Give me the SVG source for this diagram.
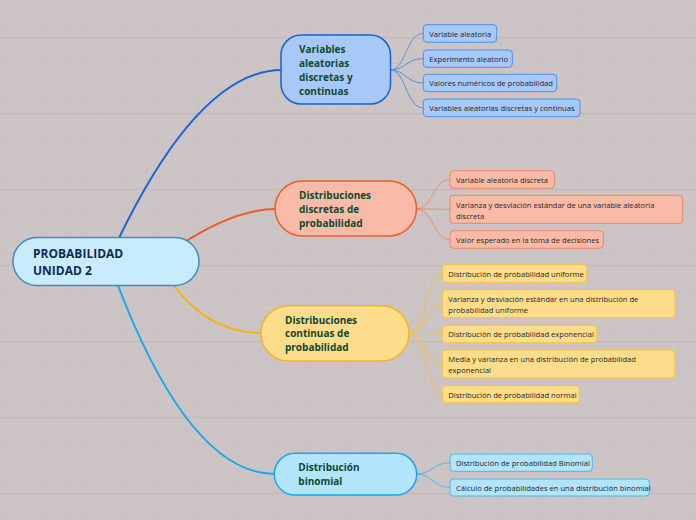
<svg xmlns="http://www.w3.org/2000/svg" width="696" height="520" viewBox="0 0 696 520">
<defs>
<pattern id="minor" patternUnits="userSpaceOnUse" x="6.5" y="-0.33" width="12.667" height="12.667">
<path d="M0,0 H12.667 M0,0 V12.667" fill="none" stroke="#c6bebe" stroke-width="1"/>
</pattern>
</defs>
<style>
.root{fill:#c8ecfc;stroke:#3f8bc8;stroke-width:1.5}
.b1{fill:#a8c8f8;stroke:#1462d2;stroke-width:1.5}
.b2{fill:#f9bba7;stroke:#f05a26;stroke-width:1.5}
.b3{fill:#fddc8b;stroke:#f4b521;stroke-width:1.5}
.b4{fill:#b2e4fb;stroke:#1ca6ea;stroke-width:1.5}
.l1{fill:#a8c8f8;stroke:#4f8fe6;stroke-width:1}
.l2{fill:#f9bba7;stroke:#ec8566;stroke-width:1}
.l3{fill:#fddc8b;stroke:#f6c23e;stroke-width:1}
.l4{fill:#b2e4fb;stroke:#4ab6ee;stroke-width:1}
.rt{font-family:"Open Sans","Noto Sans",sans-serif;font-weight:bold;font-size:12px;fill:#0f2a4f}
.bt{font-family:"Open Sans","Noto Sans",sans-serif;font-weight:bold;font-size:10px;fill:#0c4a31}
.lt{font-family:"Open Sans","Noto Sans",sans-serif;font-size:7.6px;fill:#1f1f1f}
.c{fill:none}
</style>
<rect width="696" height="520" fill="#cdc5c5"/>
<rect width="696" height="520" fill="url(#minor)"/>
<path d="M0,37.3H696M0,113.3H696M0,189.3H696M0,265.3H696M0,341.3H696M0,417.3H696M0,493.3H696" stroke="#c0b8b8" stroke-width="1" fill="none"/>

<g id="connectors">
<path class="c" d="M118,240 Q200,70 282,70" stroke="#1565d8" stroke-width="2"/>
<path class="c" d="M180,245 Q235,209 276,209" stroke="#f05a28" stroke-width="2"/>
<path class="c" d="M172,283 Q208,333 262,333" stroke="#f5b400" stroke-width="2"/>
<path class="c" d="M117,283 Q190,474 275,474" stroke="#1aa8e8" stroke-width="2"/>

<g stroke="#5a8fe0" stroke-width="1" fill="none">
<path d="M390,70 C406,70 406,33.5 423.3,33.5"/>
<path d="M390,70 C406,70 406,58.7 423.3,58.7"/>
<path d="M390,70 C406,70 406,83 423.3,83"/>
<path d="M390,70 C406,70 406,107.9 423.3,107.9"/>
</g>
<g stroke="#ee8a6a" stroke-width="1" fill="none">
<path d="M416,209 C433,209 433,179.5 450,179.5"/>
<path d="M416,209 C433,209 433,209.3 450,209.3"/>
<path d="M416,209 C433,209 433,239.5 450,239.5"/>
</g>
<g stroke="#f5c040" stroke-width="1" fill="none">
<path d="M409,333.3 C426,333.3 426,273.5 442.3,273.5"/>
<path d="M409,333.3 C426,333.3 426,303.7 442.3,303.7"/>
<path d="M409,333.3 C426,333.3 426,334 442.3,334"/>
<path d="M409,333.3 C426,333.3 426,364 442.3,364"/>
<path d="M409,333.3 C426,333.3 426,394.2 442.3,394.2"/>
</g>
<g stroke="#4ab6ee" stroke-width="1" fill="none">
<path d="M416,474 C433,474 433,462.7 450,462.7"/>
<path d="M416,474 C433,474 433,487.5 450,487.5"/>
</g>
</g>

<g id="root">
<rect class="root" x="13" y="237.5" width="186" height="48" rx="24"/>
<text class="rt" x="33" y="257.5">PROBABILIDAD</text>
<text class="rt" x="33" y="275">UNIDAD 2</text>
</g>

<g id="branch1">
<rect class="b1" x="281" y="35" width="109.5" height="69" rx="20"/>
<text class="bt" x="299" y="52.5">Variables</text>
<text class="bt" x="299" y="66.5">aleatorias</text>
<text class="bt" x="299" y="80.5">discretas y</text>
<text class="bt" x="299" y="94.5">continuas</text>
</g>
<g id="branch2">
<rect class="b2" x="275" y="181" width="141.5" height="55" rx="27.5"/>
<text class="bt" x="299" y="198.5">Distribuciones</text>
<text class="bt" x="299" y="212.8">discretas de</text>
<text class="bt" x="299" y="226.8">probabilidad</text>
</g>
<g id="branch3">
<rect class="b3" x="261" y="305.7" width="148" height="55.3" rx="27.6"/>
<text class="bt" x="285" y="323.5">Distribuciones</text>
<text class="bt" x="285" y="336.8">continuas de</text>
<text class="bt" x="285" y="350.8">probabilidad</text>
</g>
<g id="branch4">
<rect class="b4" x="274.3" y="453.3" width="142.4" height="41.7" rx="20.8"/>
<text class="bt" x="298.3" y="471.2">Distribución</text>
<text class="bt" x="298.3" y="485.2">binomial</text>
</g>

<g id="leaf1a"><rect class="l1" x="423.3" y="24.7" width="73.4" height="17.6" rx="3.5"/><text class="lt" x="429.3" y="36.8">Variable aleatoria</text></g>
<g id="leaf1b"><rect class="l1" x="423.3" y="50" width="89" height="17.3" rx="3.5"/><text class="lt" x="429.3" y="62">Experimento aleatorio</text></g>
<g id="leaf1c"><rect class="l1" x="423.3" y="74.3" width="133.4" height="17.4" rx="3.5"/><text class="lt" x="429.3" y="86.3">Valores numéricos de probabilidad</text></g>
<g id="leaf1d"><rect class="l1" x="423.3" y="99" width="156.7" height="17.7" rx="3.5"/><text class="lt" x="429.3" y="111.2">Variables aleatorias discretas y continuas</text></g>

<g id="leaf2a"><rect class="l2" x="450" y="170.7" width="104.3" height="17.6" rx="3.5"/><text class="lt" x="456" y="182.8">Variable aleatoria discreta</text></g>
<g id="leaf2b"><rect class="l2" x="450" y="195.3" width="232.7" height="28" rx="3.5"/><text class="lt" x="456" y="207.6">Varianza y desviación estándar de una variable aleatoria</text><text class="lt" x="456" y="219">discreta</text></g>
<g id="leaf2c"><rect class="l2" x="450" y="230.7" width="153.3" height="17.6" rx="3.5"/><text class="lt" x="456" y="242.8">Valor esperado en la toma de decisiones</text></g>

<g id="leaf3a"><rect class="l3" x="442.3" y="264.7" width="144.4" height="17.6" rx="3.5"/><text class="lt" x="448.3" y="276.8">Distribución de probabilidad uniforme</text></g>
<g id="leaf3b"><rect class="l3" x="442.3" y="289.7" width="232.7" height="28" rx="3.5"/><text class="lt" x="448.3" y="301.6">Varianza y desviación estándar en una distribución de</text><text class="lt" x="448.3" y="312.9">probabilidad uniforme</text></g>
<g id="leaf3c"><rect class="l3" x="442.3" y="325.3" width="154.4" height="17.4" rx="3.5"/><text class="lt" x="448.3" y="337.3">Distribución de probabilidad exponencial</text></g>
<g id="leaf3d"><rect class="l3" x="442.3" y="350" width="232.7" height="28" rx="3.5"/><text class="lt" x="448.3" y="361.9">Media y varianza en una distribución de probabilidad</text><text class="lt" x="448.3" y="373.2">exponencial</text></g>
<g id="leaf3e"><rect class="l3" x="442.3" y="385.7" width="137" height="17" rx="3.5"/><text class="lt" x="448.3" y="397.5">Distribución de probabilidad normal</text></g>

<g id="leaf4a"><rect class="l4" x="450" y="454" width="142.3" height="17.3" rx="3.5"/><text class="lt" x="456" y="466">Distribución de probabilidad Binomial</text></g>
<g id="leaf4b"><rect class="l4" x="450" y="479" width="199.3" height="17" rx="3.5"/><text class="lt" x="456" y="490.8">Cálculo de probabilidades en una distribución binomial</text></g>
</svg>
